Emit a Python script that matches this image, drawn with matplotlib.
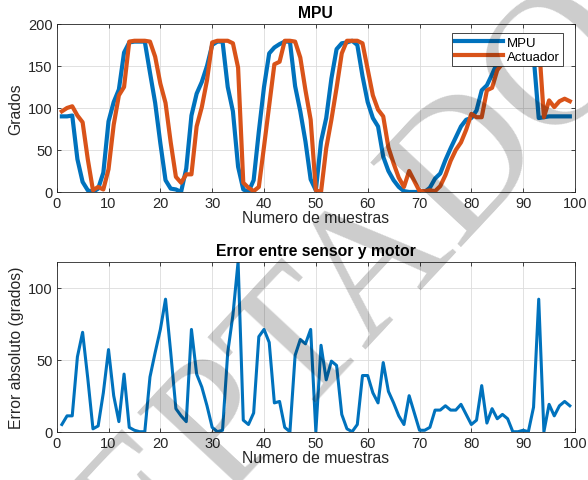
import numpy as np
import matplotlib
matplotlib.use("Agg")
import matplotlib.pyplot as plt

plt.rcParams['font.family'] = ['Liberation Sans', 'DejaVu Sans']

# sample index 1..99
muestras = np.arange(1, 100)

mpu = [90, 90, 91, 39, 12, 2, 0, 4, 23, 84,
       107, 122, 166, 178, 179, 179, 179, 142, 106, 58,
       14, 4, 3, 0, 28, 91, 117, 131, 150, 175,
       179, 179, 125, 96, 30, 3, 0, 14, 72, 125,
       165, 172, 176, 179, 179, 126, 96, 60, 15, 2,
       60, 88, 135, 170, 177, 178, 180, 175, 138, 107,
       88, 78, 42, 25, 14, 6, 1, 0, 0, 0,
       0, 5, 16, 22, 38, 52, 65, 78, 86, 88,
       97, 121, 127, 140, 154, 165, 175, 179, 179, 179,
       179, 163, 88, 89, 90, 90, 90, 90, 90]

actuador = [96, 100, 102, 91, 83, 39, 2, 6, 3, 27,
            80, 115, 125, 179, 180, 180, 180, 179, 161, 129,
            106, 59, 18, 11, 21, 21, 78, 101, 133, 178,
            180, 180, 180, 177, 148, 11, 5, 1, 6, 54,
            103, 152, 155, 180, 180, 179, 160, 121, 86, 2,
            0, 52, 86, 124, 165, 180, 180, 180, 177, 146,
            115, 98, 90, 53, 34, 17, 6, 25, 13, 1,
            1, 2, 1, 7, 20, 37, 50, 59, 74, 93,
            89, 89, 121, 124, 145, 153, 166, 179, 179, 180,
            179, 180, 180, 89, 109, 101, 108, 111, 108]

error = [5, 11, 11, 52, 69, 37, 2, 4, 27, 57,
         25, 7, 40, 3, 1, 0, 0, 38, 55, 71,
         92, 55, 16, 11, 7, 71, 40, 31, 18, 3,
         0, 1, 55, 81, 118, 8, 5, 13, 66, 71,
         62, 20, 21, 3, 0, 53, 64, 61, 71, 0,
         60, 36, 49, 46, 12, 2, 0, 5, 39, 39,
         27, 20, 48, 28, 20, 11, 5, 25, 13, 1,
         1, 3, 15, 15, 18, 15, 15, 19, 12, 5,
         8, 32, 6, 16, 9, 12, 9, 0, 0, 1,
         0, 17, 92, 0, 19, 11, 18, 21, 18]

azul = '#0072BD'
naranja = '#D95319'
gris = '#262626'


def estilo(ax):
    ax.grid(True, color='#dcdcdc', linewidth=0.6)
    ax.set_axisbelow(True)
    for s in ax.spines.values():
        s.set_color(gris)
        s.set_linewidth(0.6)
    ax.tick_params(direction='in', length=3, width=0.6, colors=gris,
                   labelsize=10.5, top=True, right=True, pad=3)
    ax.set_xlim(0, 100)
    ax.set_xticks(range(0, 101, 10))


fig = plt.figure(figsize=(5.88, 4.81), dpi=100)

# MPU vs actuador
ax1 = fig.add_axes([0.0964, 0.5988, 0.8815, 0.3493])
ax1.plot(muestras, mpu, color=azul, linewidth=3, label='MPU')
ax1.plot(muestras, actuador, color=naranja, linewidth=3, label='Actuador')
estilo(ax1)
ax1.set_ylim(0, 200)
ax1.set_yticks(range(0, 201, 50))
ax1.set_title('MPU', fontsize=11.3, fontweight='bold', pad=5)
ax1.set_xlabel('Numero de muestras', fontsize=11.3, color=gris, labelpad=0)
ax1.set_ylabel('Grados', fontsize=11.3, color=gris, labelpad=3)
leg = ax1.legend(loc='upper right', bbox_to_anchor=(0.977, 0.945),
                 fontsize=9.5, handlelength=3.6, fancybox=False,
                 framealpha=1, edgecolor=gris, borderpad=0.25,
                 labelspacing=0.15, handletextpad=0.3, borderaxespad=0)
leg.get_frame().set_linewidth(0.6)

# error absoluto
ax2 = fig.add_axes([0.0964, 0.1004, 0.8815, 0.3534])
ax2.plot(muestras, error, color=azul, linewidth=2.2)
estilo(ax2)
ax2.set_ylim(0, max(error))
ax2.set_yticks([0, 50, 100])
ax2.set_title('Error entre sensor y motor', fontsize=11.3, fontweight='bold', pad=5)
ax2.set_xlabel('Numero de muestras', fontsize=11.3, color=gris, labelpad=0)
ax2.set_ylabel('Error absoluto (grados)', fontsize=11.3, color=gris, labelpad=3)

# watermark
fig.text(272 / 588, 1 - 382 / 481, 'ACEPTADO', family='Liberation Serif',
         fontsize=136, color='black', alpha=0.2, rotation=47,
         ha='center', va='center', rotation_mode='anchor', zorder=10)

fig.savefig('out.png', dpi=100)
